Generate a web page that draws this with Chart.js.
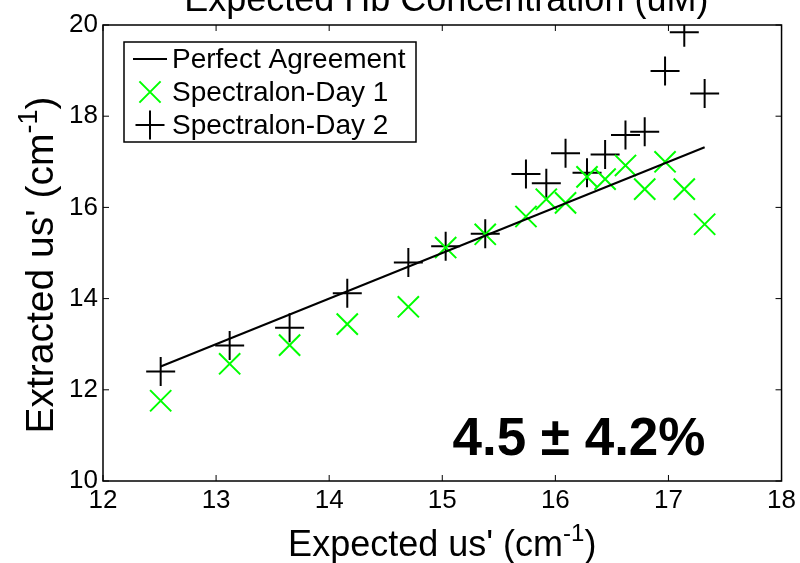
<!DOCTYPE html>
<html>
<head>
<meta charset="utf-8">
<script src="https://cdn.jsdelivr.net/npm/chart.js@4.4.1/dist/chart.umd.min.js"></script>
<style>
body{margin:0;background:#fff;}
canvas{display:block;}
</style>
</head>
<body>
<canvas id="fitCanvas" width="800" height="563"></canvas>
<script>
// expected us' of each phantom (cm-1)
var expected=[12.51,13.12,13.65,14.16,14.70,15.03,15.38,15.74,15.92,16.09,16.28,16.44,16.62,16.79,16.97,17.14,17.32];
// extracted us' on the two spectralon days
var day1=[11.76,12.57,12.98,13.44,13.82,15.12,15.41,15.80,16.18,16.10,16.67,16.62,16.92,16.40,17.00,16.40,15.63];
var day2=[12.40,12.97,13.36,14.12,14.79,15.15,15.42,16.73,16.53,17.19,16.76,17.16,17.59,17.66,18.99,19.84,18.50];
// y = x reference
var agreeX=[12.51,17.32];
var agreeY=[12.51,17.32];
var xTicks=[12,13,14,15,16,17,18];
var yTicks=[10,12,14,16,18,20];
var seriesNames=['Perfect Agreement','Spectralon-Day 1','Spectralon-Day 2'];
var errText='4.5 \u00b1 4.2%';
var errAt=[15.09,10.57];

var FONT='"Liberation Sans", Arial, Helvetica, sans-serif';
var GREEN='#00ff00';

function pair(xs, ys){
	var out=[];
	for(var i=0; i<xs.length; i++){
		out.push({x:xs[i], y:ys[i]});
	}
	return out;
}

// text with a superscript part, centred on x, baseline y
function supText(ctx, base, sup, tail, x, y, size){
	ctx.font=size+'px '+FONT;
	var w1=ctx.measureText(base).width;
	var w3=ctx.measureText(tail).width;
	ctx.font=Math.round(size*0.68)+'px '+FONT;
	var w2=ctx.measureText(sup).width;
	var left=x-(w1+w2+w3)/2;
	ctx.textAlign='left';
	ctx.textBaseline='alphabetic';
	ctx.font=size+'px '+FONT;
	ctx.fillText(base, left, y);
	ctx.fillText(tail, left+w1+w2, y);
	ctx.font=Math.round(size*0.68)+'px '+FONT;
	ctx.fillText(sup, left+w1, y-size*0.42);
}

function drawMarker(ctx, style, color, x, y){
	ctx.strokeStyle=color;
	ctx.lineWidth=2;
	ctx.beginPath();
	if(style=='line'){
		ctx.moveTo(x-17, y);
		ctx.lineTo(x+17, y);
	}
	else if(style=='cross'){
		ctx.moveTo(x-14.5, y); ctx.lineTo(x+14.5, y);
		ctx.moveTo(x, y-14.5); ctx.lineTo(x, y+14.5);
	}
	else{
		var d=10.6;
		ctx.moveTo(x-d, y-d); ctx.lineTo(x+d, y+d);
		ctx.moveTo(x+d, y-d); ctx.lineTo(x-d, y+d);
	}
	ctx.stroke();
}

var decor={
	id:'decor',
	afterDraw: function(chart){
		var ctx=chart.ctx, a=chart.chartArea;
		var sx=chart.scales.x, sy=chart.scales.y;
		ctx.save();

		// axes box and inward ticks
		ctx.strokeStyle='#000';
		ctx.lineWidth=1.5;
		ctx.strokeRect(a.left, a.top, a.right-a.left, a.bottom-a.top);
		ctx.lineWidth=1;
		ctx.beginPath();
		for(var i=0; i<xTicks.length; i++){
			var px=sx.getPixelForValue(xTicks[i]);
			ctx.moveTo(px, a.bottom); ctx.lineTo(px, a.bottom-6);
			ctx.moveTo(px, a.top); ctx.lineTo(px, a.top+6);
		}
		for(var j=0; j<yTicks.length; j++){
			var py=sy.getPixelForValue(yTicks[j]);
			ctx.moveTo(a.left, py); ctx.lineTo(a.left+6, py);
			ctx.moveTo(a.right, py); ctx.lineTo(a.right-6, py);
		}
		ctx.stroke();

		// legend
		ctx.fillStyle='#fff';
		ctx.fillRect(124, 42, 292, 100);
		ctx.strokeStyle='#000';
		ctx.lineWidth=1.5;
		ctx.strokeRect(124, 42, 292, 100);
		var styles=['line','crossRot','cross'];
		var colors=['#000', GREEN, '#000'];
		ctx.font='28px '+FONT;
		ctx.textAlign='left';
		ctx.textBaseline='middle';
		for(var k=0; k<seriesNames.length; k++){
			var ly=59+k*33;
			drawMarker(ctx, styles[k], colors[k], 150, ly);
			ctx.fillStyle='#000';
			ctx.fillText(seriesNames[k], 172, ly+1);
		}

		// error figure
		ctx.font='bold 53px '+FONT;
		ctx.textBaseline='alphabetic';
		ctx.fillStyle='#000';
		ctx.fillText(errText, sx.getPixelForValue(errAt[0]), sy.getPixelForValue(errAt[1]));

		// titles
		var cx=(a.left+a.right)/2;
		ctx.textAlign='center';
		ctx.font='36px '+FONT;
		ctx.fillText('Expected Hb Concentration (uM)', cx+4, 11);
		supText(ctx, "Expected us' (cm", '-1', ')', cx, 556, 36);
		ctx.translate(53, 265);
		ctx.rotate(-Math.PI/2);
		supText(ctx, "Extracted us' (cm", '-1', ')', 0, 0, 39);
		ctx.restore();
	}
};

var tickFont={family:FONT, size:26};

new Chart(document.getElementById('fitCanvas'), {
	type:'scatter',
	data:{
		datasets:[{
			label:seriesNames[0],
			data:pair(agreeX, agreeY),
			showLine:true,
			borderColor:'#000',
			borderWidth:2,
			pointRadius:0
		},{
			label:seriesNames[1],
			data:pair(expected, day1),
			pointStyle:'crossRot',
			pointRadius:15,
			borderColor:GREEN,
			borderWidth:2
		},{
			label:seriesNames[2],
			data:pair(expected, day2),
			pointStyle:'cross',
			pointRadius:14.5,
			borderColor:'#000',
			borderWidth:2
		}]
	},
	options:{
		responsive:false,
		animation:false,
		layout:{padding:{left:0, right:17, top:25, bottom:0}},
		plugins:{legend:{display:false}, tooltip:{enabled:false}},
		scales:{
			x:{
				type:'linear', min:12, max:18,
				afterBuildTicks:function(s){ s.ticks=xTicks.map(function(v){return {value:v};}); },
				afterFit:function(s){ s.height=82; },
				ticks:{color:'#000', font:tickFont, padding:4, maxRotation:0},
				grid:{display:false, drawTicks:false},
				border:{display:false}
			},
			y:{
				type:'linear', min:10, max:20,
				afterBuildTicks:function(s){ s.ticks=yTicks.map(function(v){return {value:v};}); },
				afterFit:function(s){ s.width=103; },
				ticks:{color:'#000', font:tickFont, padding:5},
				grid:{display:false, drawTicks:false},
				border:{display:false}
			}
		}
	},
	plugins:[decor]
});
</script>
</body>
</html>
